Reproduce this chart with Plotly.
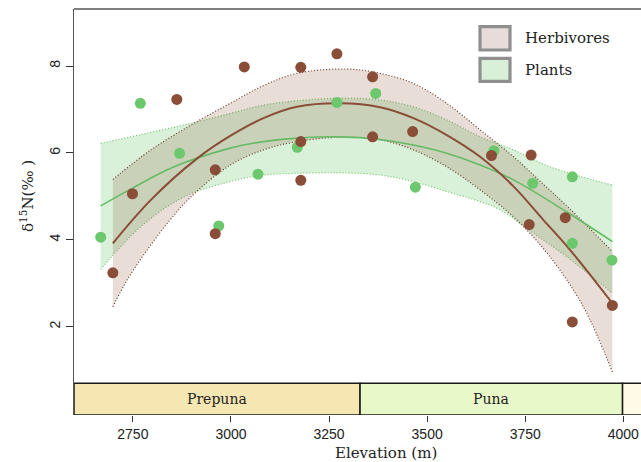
import plotly.graph_objects as go

# ---- observed data ----
herb_x = [2699, 2749, 2862, 2960, 2960, 3034, 3178, 3178, 3178, 3270, 3361, 3361,
          3463, 3664, 3765, 3760, 3852, 3870, 3972]
herb_y = [3.24, 5.06, 7.23, 5.61, 4.14, 7.98, 7.97, 6.26, 5.37, 8.28, 7.75, 6.37,
          6.49, 5.94, 5.95, 4.35, 4.51, 2.11, 2.49]

plant_x = [2668, 2769, 2869, 2969, 3069, 3169, 3270, 3369, 3470, 3670, 3769, 3870, 3870, 3971]
plant_y = [4.06, 7.14, 5.99, 4.32, 5.51, 6.13, 7.16, 7.37, 5.21, 6.05, 5.30, 5.45, 3.92, 3.53]

# ---- fitted curves and confidence bands ----
herb_fit_x = [2699, 2796, 2915, 2998, 3083, 3168, 3278, 3380, 3465, 3550, 3635, 3720, 3796, 3864, 3972]
herb_fit_y = [3.92, 4.92, 5.88, 6.39, 6.80, 7.06, 7.14, 7.05, 6.80, 6.41, 5.91, 5.23, 4.46, 3.77, 2.54]

herb_up_x = [2699, 2796, 2898, 2998, 3083, 3168, 3295, 3380, 3465, 3550, 3635, 3720, 3796, 3864, 3972]
herb_up_y = [5.39, 6.07, 6.64, 7.14, 7.55, 7.83, 7.93, 7.83, 7.60, 7.14, 6.53, 5.91, 5.28, 4.71, 3.73]

herb_lo_x = [2699, 2735, 2786, 2845, 2896, 2998, 3083, 3168, 3278, 3380, 3465, 3550, 3635, 3728,
             3813, 3898, 3972]
herb_lo_y = [2.46, 3.07, 3.76, 4.46, 4.97, 5.72, 6.07, 6.26, 6.36, 6.30, 6.07, 5.68, 5.15, 4.46,
             3.61, 2.46, 0.96]

plant_fit_x = [2668, 2749, 2855, 2998, 3083, 3168, 3278, 3380, 3465, 3550, 3635, 3720, 3856, 3972]
plant_fit_y = [4.78, 5.19, 5.68, 6.11, 6.26, 6.34, 6.37, 6.31, 6.18, 5.99, 5.72, 5.38, 4.64, 3.96]

plant_up_x = [2668, 2770, 2898, 2998, 3083, 3168, 3278, 3380, 3465, 3550, 3635, 3720, 3813, 3972]
plant_up_y = [6.22, 6.42, 6.68, 6.91, 7.10, 7.20, 7.26, 7.22, 7.06, 6.76, 6.37, 6.07, 5.68, 5.26]

plant_lo_x = [2668, 2770, 2881, 2998, 3083, 3168, 3278, 3380, 3465, 3550, 3635, 3686, 3771, 3856, 3972]
plant_lo_y = [3.32, 4.30, 4.99, 5.34, 5.49, 5.53, 5.54, 5.49, 5.34, 5.11, 4.88, 4.69, 4.15, 3.61, 2.77]

# ---- vegetation zones ----
zone_names = ["Prepuna", "Puna", ""]
zone_start = [2600, 3329, 3998]
zone_end = [3329, 3998, 4150]
zone_colors = ["#f6e6b1", "#e9f8c9", "#fffbe6"]

x_ticks = [2750, 3000, 3250, 3500, 3750, 4000]
y_ticks = [2, 4, 6, 8]

legend_labels = ["Herbivores", "Plants"]

# ---- styles ----
BROWN = "#894d38"
BROWN_DOT = "#6a3d2d"
GREEN = "#6cc86c"
GREEN_LINE = "#66bb66"
GREEN_DOT = "#70c470"
HERB_FILL = "rgba(138,75,50,0.19)"
PLANT_FILL = "rgba(110,205,110,0.27)"
SERIF = "DejaVu Serif"
SANS = "Liberation Sans, Arial"

W, H = 641, 462
ML, MT, MB = 74, 9, 47
XR = [2600, 4045]
YR = [-0.032, 9.312]
band_top = 0.697

fig = go.Figure()

# plants band
fig.add_trace(go.Scatter(x=plant_lo_x, y=plant_lo_y, mode="lines", line=dict(color=GREEN_DOT, width=1.2, dash="1px,2px", shape="spline"),
                         hoverinfo="skip", showlegend=False))
fig.add_trace(go.Scatter(x=plant_up_x, y=plant_up_y, mode="lines", fill="tonexty", fillcolor=PLANT_FILL,
                         line=dict(color=GREEN_DOT, width=1.2, dash="1px,2px", shape="spline"),
                         hoverinfo="skip", showlegend=False))
# herbivores band
fig.add_trace(go.Scatter(x=herb_lo_x, y=herb_lo_y, mode="lines", line=dict(color=BROWN_DOT, width=1.2, dash="1px,2px", shape="spline"),
                         hoverinfo="skip", showlegend=False))
fig.add_trace(go.Scatter(x=herb_up_x, y=herb_up_y, mode="lines", fill="tonexty", fillcolor=HERB_FILL,
                         line=dict(color=BROWN_DOT, width=1.2, dash="1px,2px", shape="spline"),
                         hoverinfo="skip", showlegend=False))
# fitted lines
fig.add_trace(go.Scatter(x=plant_fit_x, y=plant_fit_y, mode="lines", line=dict(color=GREEN_LINE, width=1.6, shape="spline"),
                         showlegend=False))
fig.add_trace(go.Scatter(x=herb_fit_x, y=herb_fit_y, mode="lines", line=dict(color=BROWN, width=2, shape="spline"),
                         showlegend=False))
# points
fig.add_trace(go.Scatter(x=plant_x, y=plant_y, mode="markers", name="Plants",
                         marker=dict(color=GREEN, size=11, line=dict(width=0)), showlegend=False))
fig.add_trace(go.Scatter(x=herb_x, y=herb_y, mode="markers", name="Herbivores",
                         marker=dict(color=BROWN, size=11, line=dict(width=0)), showlegend=False))

shapes = []
annotations = []
# zone band
for name, s, e, c in zip(zone_names, zone_start, zone_end, zone_colors):
    shapes.append(dict(type="rect", xref="x", yref="y", x0=s, x1=e, y0=YR[0], y1=band_top,
                       fillcolor=c, line=dict(color="#1a1a1a", width=1.5), layer="above"))
    if name:
        annotations.append(dict(x=(s + e) / 2, y=(YR[0] + band_top) / 2, xref="x", yref="y", text=name,
                                showarrow=False, font=dict(family=SERIF, size=14, color="#222")))

pw = W - ML
ph = H - MT - MB


def px(xp):
    return (xp - ML) / pw


def py(yp):
    return (H - MB - yp) / ph


# top frame line
shapes.append(dict(type="line", xref="paper", yref="paper", x0=0, x1=1, y0=1, y1=1,
                   line=dict(color="#555", width=1.3)))

# legend boxes
leg_fills = ["#e7dcd9", "#d8efd8"]
leg_y = [(26.7, 50.0), (58.3, 81.3)]
for lab, f, (y0, y1) in zip(legend_labels, leg_fills, leg_y):
    shapes.append(dict(type="rect", xref="paper", yref="paper", x0=px(480), x1=px(510),
                       y0=py(y1), y1=py(y0), fillcolor=f, line=dict(color="#8f8f8f", width=3.2)))
    annotations.append(dict(x=px(523), y=py((y0 + y1) / 2), xref="paper", yref="paper", text=lab,
                            xanchor="left", yanchor="middle", showarrow=False,
                            font=dict(family=SERIF, size=15, color="#222")))

# axis titles
annotations.append(dict(x=px(385.5), y=py(453), xref="paper", yref="paper", text="Elevation (m)",
                        showarrow=False, xanchor="center", yanchor="middle",
                        font=dict(family=SERIF, size=15, color="#222")))
annotations.append(dict(x=px(27), y=py(196), xref="paper", yref="paper", text="δ<sup>15</sup>N(‰ )",
                        showarrow=False, textangle=-90, xanchor="center", yanchor="middle",
                        font=dict(family=SERIF, size=15, color="#222")))

fig.update_layout(
    width=W, height=H,
    margin=dict(l=ML, r=0, t=MT, b=MB, pad=0),
    paper_bgcolor="white", plot_bgcolor="white",
    showlegend=False,
    shapes=shapes, annotations=annotations,
    xaxis=dict(range=XR, tickmode="array", tickvals=x_ticks, ticks="outside", ticklen=6,
               tickcolor="#333", tickwidth=1.2, showgrid=False, zeroline=False, showline=False,
               tickfont=dict(family=SANS, size=14, color="#222")),
    yaxis=dict(range=YR, tickmode="array", tickvals=y_ticks, ticks="outside", ticklen=7,
               tickcolor="#333", tickwidth=1.2, showgrid=False, zeroline=False, showline=True,
               linecolor="#555", linewidth=1.3, tickangle=-90,
               tickfont=dict(family=SANS, size=14, color="#222")),
)

fig.write_html("out.html", config={"displayModeBar": False},
               post_script="document.body.style.margin='0';document.body.style.overflow='hidden';")
